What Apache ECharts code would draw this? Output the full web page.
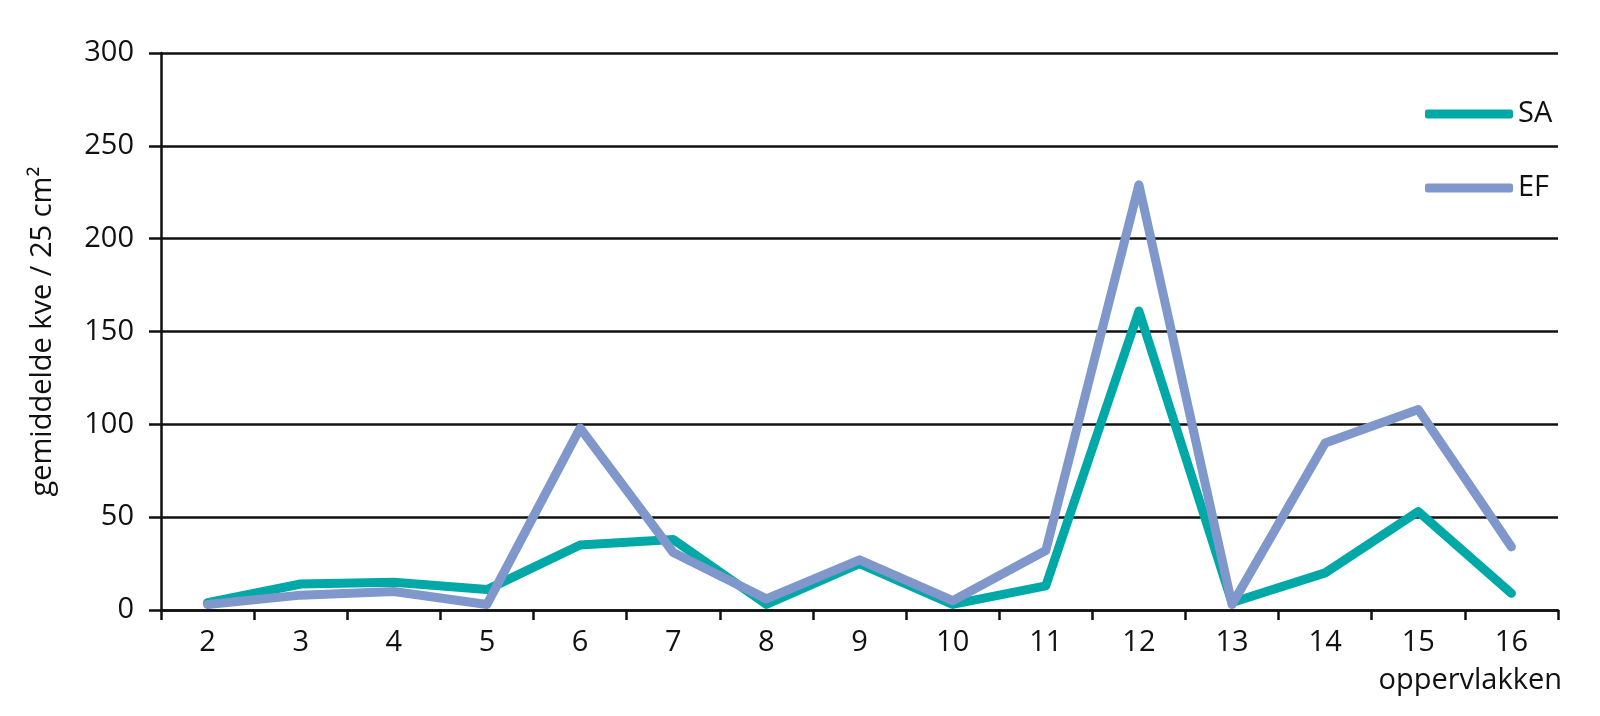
<!DOCTYPE html>
<html>
<head>
<meta charset="utf-8">
<script src="https://cdn.jsdelivr.net/npm/echarts@6/dist/echarts.min.js"></script>
<style>
html,body{margin:0;padding:0;background:#fff;}
#chart{width:1600px;height:716px;}
</style>
</head>
<body>
<div id="chart"></div>
<script>
const categories = ['2','3','4','5','6','7','8','9','10','11','12','13','14','15','16'];
const saValues = [4, 14, 15, 11, 35, 38, 3, 25, 3, 13, 161, 4, 20, 53, 9];
const efValues = [3, 8, 10, 3, 98, 31, 6, 27, 5, 32, 229, 3, 90, 108, 34];
const yTicks = [0, 50, 100, 150, 200, 250, 300];

const FONT = '"Open Sans", "Noto Sans", sans-serif';
const chart = echarts.init(document.getElementById('chart'), null, {renderer: 'canvas'});
chart.setOption({
  animation: false,
  backgroundColor: '#ffffff',
  textStyle: {fontFamily: FONT, color: '#111'},
  grid: {left: 161, right: 42, top: 53, bottom: 106, containLabel: false},
  legend: {
    orient: 'vertical',
    left: 1420,
    top: 94,
    itemGap: 44,
    itemWidth: 88,
    itemHeight: 9,
    icon: 'roundRect',
    textStyle: {fontFamily: FONT, fontSize: 29, lineHeight: 30, color: '#111'},
    data: ['SA', 'EF']
  },
  xAxis: {
    type: 'category',
    data: categories,
    boundaryGap: true,
    axisLine: {show: true, lineStyle: {color: '#111', width: 2.5}},
    axisTick: {show: true, length: 10, inside: false, lineStyle: {color: '#111', width: 2.5}},
    axisLabel: {fontFamily: FONT, fontSize: 29, lineHeight: 30, color: '#111', margin: 18},
    splitLine: {show: false}
  },
  yAxis: {
    type: 'value',
    min: yTicks[0],
    max: yTicks[yTicks.length - 1],
    interval: yTicks[1] - yTicks[0],
    name: 'gemiddelde kve / 25 cm²',
    nameLocation: 'middle',
    nameGap: 103,
    nameRotate: 90,
    nameTextStyle: {fontFamily: FONT, fontSize: 29, lineHeight: 30, color: '#111'},
    axisLine: {show: true, lineStyle: {color: '#111', width: 2.5}},
    axisTick: {show: true, length: 12, inside: false, lineStyle: {color: '#111', width: 2.5}},
    axisLabel: {fontFamily: FONT, fontSize: 29, color: '#111', margin: 27},
    splitLine: {show: true, lineStyle: {color: '#111', width: 2.5}}
  },
  graphic: [{
    type: 'text',
    right: 38,
    top: 666,
    style: {text: 'oppervlakken', font: '29px ' + FONT, fill: '#111', textAlign: 'right'}
  }],
  series: [
    {
      name: 'SA', type: 'line', data: saValues,
      showSymbol: false, symbol: 'none',
      color: '#00A9A7',
      lineStyle: {width: 9, color: '#00A9A7', cap: 'round', join: 'round'}
    },
    {
      name: 'EF', type: 'line', data: efValues,
      showSymbol: false, symbol: 'none',
      color: '#8097CB',
      lineStyle: {width: 9, color: '#8097CB', cap: 'round', join: 'round'}
    }
  ]
});
</script>
</body>
</html>
